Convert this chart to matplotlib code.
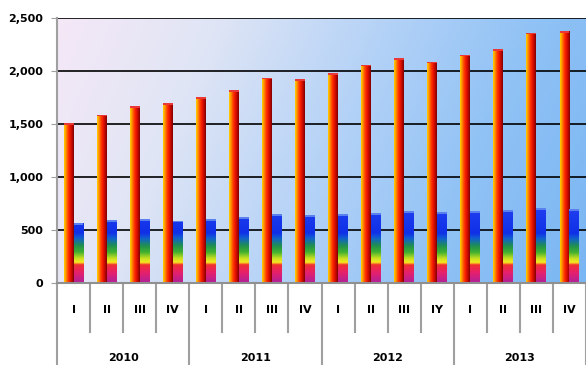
import numpy as np
import matplotlib
matplotlib.use("Agg")
import matplotlib.pyplot as plt
from matplotlib.colors import LinearSegmentedColormap
from matplotlib.patches import Rectangle

years = ["2010", "2011", "2012", "2013"]
quarters = ["I", "II", "III", "IV", "I", "II", "III", "IV",
            "I", "II", "III", "IY", "I", "II", "III", "IV"]
series_a = [1510, 1590, 1670, 1695, 1755, 1820, 1940, 1925,
            1980, 2060, 2120, 2090, 2155, 2210, 2365, 2380]
series_b = [560, 590, 600, 588, 600, 625, 648, 636,
            648, 662, 680, 670, 680, 688, 707, 698]
yticks = [0, 500, 1000, 1500, 2000, 2500]

fig = plt.figure(figsize=(5.86, 3.65), dpi=100)
ax = fig.add_axes([57/586, 1 - 282.7/365, 1 - 57/586, (282.7 - 18.3)/365])
n = len(quarters)
ax.set_xlim(-0.5, n - 0.5)
ax.set_ylim(0, 2500)

# background gradient
bg_cmap = LinearSegmentedColormap.from_list(
    "bg", ["#f5e8f7", "#dfe5f5", "#b6d3f7", "#90c2f5", "#7ab6f3"])
gx, gy = np.meshgrid(np.linspace(0, 1, 200), np.linspace(0, 1, 100))
grad = 0.82 * gx + 0.18 * gy
ax.imshow(grad, cmap=bg_cmap, extent=[-0.5, n - 0.5, 0, 2500],
          aspect="auto", origin="upper", zorder=0)

# gridlines
for v in yticks[1:]:
    ax.axhline(v, color="black", lw=1.2, zorder=1)

x = np.arange(n)
w = 0.3
bars_a = ax.bar(x - w/2, series_a, width=w, color="none", zorder=2)
bars_b = ax.bar(x + w/2, series_b, width=w, color="none", zorder=2)

red_cmap = LinearSegmentedColormap.from_list(
    "red", ["#ffd000", "#ff9000", "#ff4000", "#f01800", "#c00800", "#800000"])
hgrad = np.linspace(0, 1, 50).reshape(1, -1)
for b in bars_a:
    x0, w0, h0 = b.get_x(), b.get_width(), b.get_height()
    im = ax.imshow(hgrad, cmap=red_cmap, extent=[x0, x0 + w0, 0, h0],
                   aspect="auto", zorder=2)
    im.set_clip_path(b)
    ax.add_patch(Rectangle((x0, h0 - 15), w0, 15, color="#e83838", zorder=3, lw=0))

vmax = 720
rainbow = LinearSegmentedColormap.from_list(
    "rb", [(0.0, "#b0209a"), (100/vmax, "#e8206a"), (170/vmax, "#f03030"),
           (192/vmax, "#f8e820"), (230/vmax, "#c8e020"), (290/vmax, "#40b030"),
           (350/vmax, "#209050"), (420/vmax, "#1060d0"), (470/vmax, "#1030e8"),
           (1.0, "#2040f0")])
vgrad = np.linspace(1, 0, 300).reshape(-1, 1)
for b in bars_b:
    x0, w0, h0 = b.get_x(), b.get_width(), b.get_height()
    im = ax.imshow(vgrad, cmap=rainbow, vmin=0, vmax=1,
                   extent=[x0, x0 + w0, 0, vmax], aspect="auto", zorder=2)
    im.set_clip_path(b)
    ax.add_patch(Rectangle((x0, h0 - 18), w0, 18, color="#5a80f0", zorder=3, lw=0))

for s in ["top", "right"]:
    ax.spines[s].set_visible(False)
ax.spines["left"].set_color("#a0a0a0")
ax.spines["left"].set_linewidth(1.5)
ax.spines["bottom"].set_color("#909090")
ax.spines["bottom"].set_linewidth(1.5)
ax.set_yticks(yticks)
ax.set_yticklabels([f"{v:,}" for v in yticks], fontsize=8, fontweight="bold")
ax.tick_params(axis="y", length=4, color="#a0a0a0", pad=6)
ax.set_xticks([])

tr = ax.get_xaxis_transform()
for i in range(n + 1):
    xb = i - 0.5
    if i % 4 == 0:
        ax.plot([xb, xb], [0, -0.31], transform=tr, color="#a0a0a0",
                lw=1.5, clip_on=False)
    else:
        ax.plot([xb, xb], [0, -0.1865], transform=tr, color="#a0a0a0",
                lw=1.5, clip_on=False)
for i, q in enumerate(quarters):
    ax.text(i, -0.104, q, transform=tr, ha="center", va="center",
            fontsize=8, fontweight="bold")
for j, yr in enumerate(years):
    ax.text(4 * j + 1.5, -0.285, yr, transform=tr, ha="center", va="center",
            fontsize=8, fontweight="bold")

fig.savefig("out.png", dpi=100)
